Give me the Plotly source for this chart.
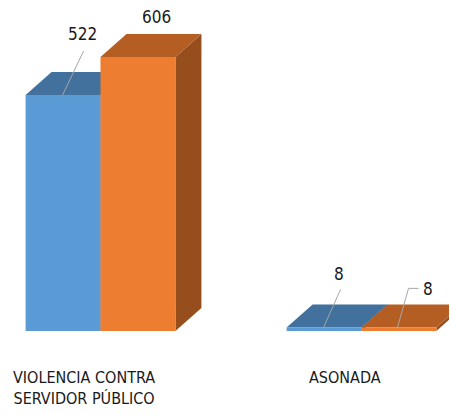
import plotly.graph_objects as go

categories = ["VIOLENCIA CONTRA<br>SERVIDOR PÚBLICO", "ASONADA"]
series_names = ["Serie 1", "Serie 2"]
blue_values = [522, 8]
orange_values = [606, 8]

# layout / scale (pixel geometry of the 3D look); page body adds an 8px offset
PAGE_OFF = 8
W, H = 457 - PAGE_OFF, 415 - PAGE_OFF
PX_X = 261.0          # pixels per category unit
PX_Y = 0.4521         # pixels per value unit
X0_PX = 100.5 - PAGE_OFF   # pixel of category 0
BASE_PX = 331.0 - PAGE_OFF # pixel row of value 0
BAR_W = 0.287         # bar width in category units
DX = 26 / PX_X        # depth offset (x)
DY = 23 / PX_Y        # depth offset (y)

x_range = [-X0_PX / PX_X, (W - X0_PX) / PX_X]
y_range = [-(H - BASE_PX) / PX_Y, BASE_PX / PX_Y]

colors = {
    "blue": {"front": "#5B9BD5", "top": "#41719C", "side": "#3A6690"},
    "orange": {"front": "#ED7D31", "top": "#B55E24", "side": "#974E1D"},
}

fig = go.Figure()

def poly(xs, ys, color):
    fig.add_trace(go.Scatter(x=xs + [xs[0]], y=ys + [ys[0]], mode="lines",
                             fill="toself", fillcolor=color,
                             line=dict(width=0, color=color),
                             hoverinfo="skip", showlegend=False))

bars = []
for i in range(len(categories)):
    bars.append((i - BAR_W, blue_values[i], "blue"))
    bars.append((i, orange_values[i], "orange"))

for x0, v, c in bars:
    x1 = x0 + BAR_W
    poly([x1, x1, x1 + DX, x1 + DX], [0, v, v + DY, DY], colors[c]["side"])
    poly([x0, x1, x1 + DX, x0 + DX], [v, v, v + DY, v + DY], colors[c]["top"])
    poly([x0, x1, x1, x0], [0, 0, v, v], colors[c]["front"])

FONT = "DejaVu Sans Condensed, Liberation Sans Narrow, Liberation Sans, sans-serif"
label_font = dict(family=FONT, size=17, color="#1a1a1a")
lead = "#A6A6A6"

def px(dx_px, dy_px):
    return dx_px / PX_X, -dy_px / PX_Y

# 522 label
xa, ya = -BAR_W + 37 / PX_X, blue_values[0]
lx, ly = px(20, -61)
fig.add_trace(go.Scatter(x=[xa, xa + px(21, 0)[0]], y=[ya, ya + px(0, -44)[1]], mode="lines",
                         line=dict(color=lead, width=1), hoverinfo="skip", showlegend=False))
fig.add_annotation(x=xa + lx, y=ya + ly, text=str(blue_values[0]), showarrow=False, font=label_font)

# 606 label
xa, ya = 0 + 56 / PX_X, orange_values[0]
lx, ly = px(0, -40)
fig.add_annotation(x=xa + lx, y=ya + ly, text=str(orange_values[0]), showarrow=False, font=label_font)

# ASONADA blue 8
xa, ya = 1 - BAR_W + 37 / PX_X, blue_values[1]
fig.add_trace(go.Scatter(x=[xa, xa + px(17, 0)[0]], y=[ya, ya + px(0, -38)[1]], mode="lines",
                         line=dict(color=lead, width=1), hoverinfo="skip", showlegend=False))
lx, ly = px(15, -53)
fig.add_annotation(x=xa + lx, y=ya + ly, text=str(blue_values[1]), showarrow=False, font=label_font)

# ASONADA orange 8
xa, ya = 1 + 36 / PX_X, orange_values[1]
fig.add_trace(go.Scatter(x=[xa, xa + px(11, 0)[0], xa + px(21, 0)[0]],
                         y=[ya, ya + px(0, -39)[1], ya + px(0, -39)[1]], mode="lines",
                         line=dict(color=lead, width=1), hoverinfo="skip", showlegend=False))
lx, ly = px(30, -38)
fig.add_annotation(x=xa + lx, y=ya + ly, text=str(orange_values[1]), showarrow=False, font=label_font)

# category labels
cat_font = dict(family=FONT, size=16, color="#1a1a1a")
for i, cat in enumerate(categories):
    fig.add_annotation(x=i - 17 / PX_X, y=-35 / PX_Y, text=cat, showarrow=False,
                       font=cat_font, yanchor="top", align="center")

fig.update_layout(
    width=W, height=H, margin=dict(l=0, r=0, t=0, b=0),
    paper_bgcolor="white", plot_bgcolor="white",
    xaxis=dict(range=x_range, visible=False, fixedrange=True),
    yaxis=dict(range=y_range, visible=False, fixedrange=True),
    showlegend=False,
)

fig.write_html("out.html")
